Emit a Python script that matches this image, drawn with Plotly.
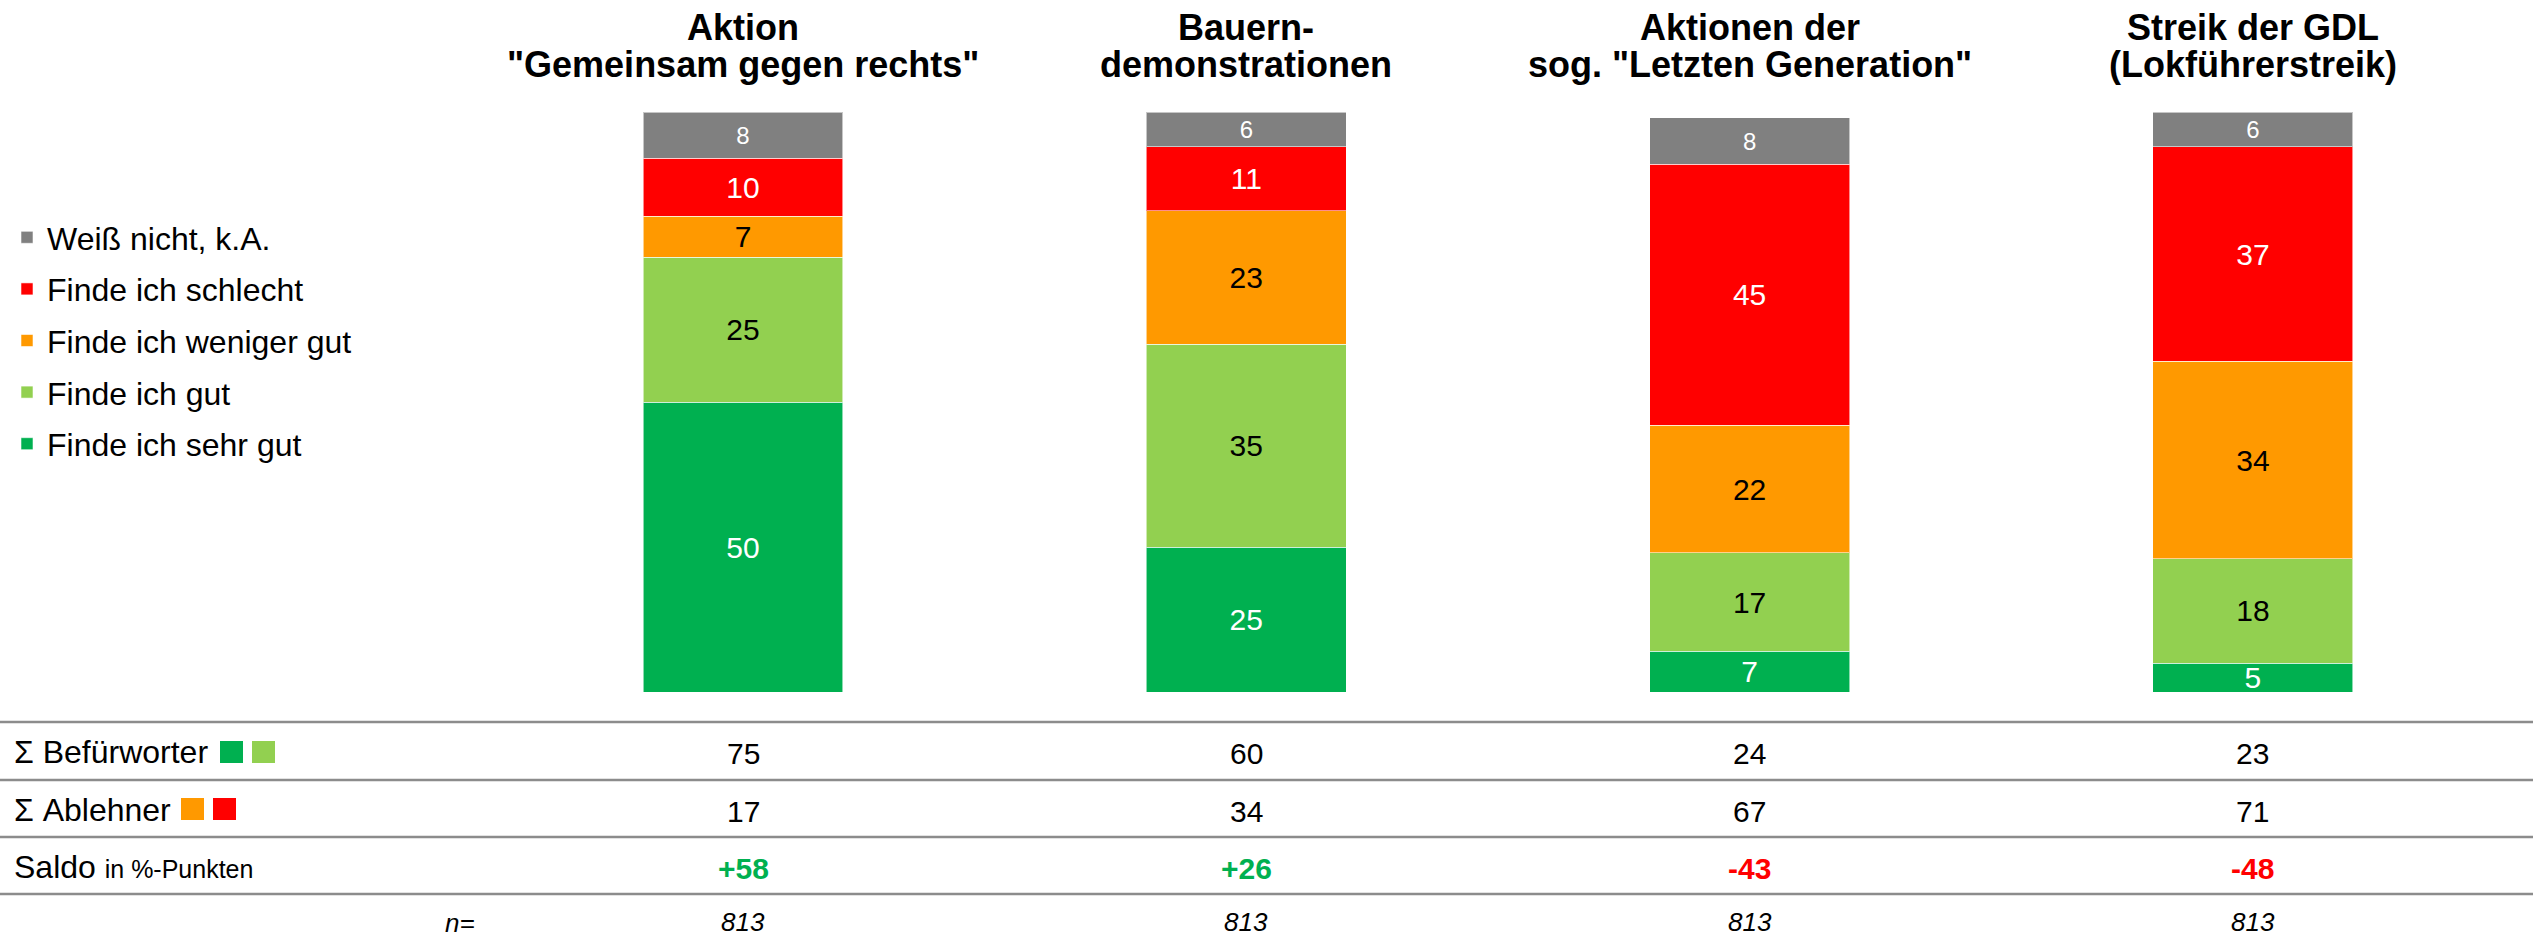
import plotly.graph_objects as go

# ---------------- data ----------------
categories = ['Aktion "Gemeinsam gegen rechts"', "Bauerndemonstrationen",
              'Aktionen der sog. "Letzten Generation"', "Streik der GDL (Lokführerstreik)"]
title_line1 = ["Aktion", "Bauern-", "Aktionen der", "Streik der GDL"]
title_line2 = ['"Gemeinsam gegen rechts"', "demonstrationen", 'sog. "Letzten Generation"', "(Lokführerstreik)"]

series_names = ["Finde ich sehr gut", "Finde ich gut", "Finde ich weniger gut",
                "Finde ich schlecht", "Weiß nicht, k.A."]
sehr_gut = [50, 25, 7, 5]
gut = [25, 35, 17, 18]
weniger_gut = [7, 23, 22, 34]
schlecht = [10, 11, 45, 37]
weiss_nicht = [8, 6, 8, 6]
n_values = [813, 813, 813, 813]

colors = ["#00B050", "#92D050", "#FF9900", "#FF0000", "#808080"]
text_colors = ["white", "black", "black", "white", "white"]
text_sizes = [30, 30, 30, 30, 24]

befuerworter = [a + b for a, b in zip(sehr_gut, gut)]
ablehner = [a + b for a, b in zip(weniger_gut, schlecht)]
saldo = [b - a for b, a in zip(befuerworter, ablehner)]

# ---------------- figure ----------------
W, H = 2548, 939
FONT = "Liberation Sans, Arial, sans-serif"


def py(px):
    return 1 - px / H


def pxx(px):
    return px / W


fig = go.Figure()
all_series = [sehr_gut, gut, weniger_gut, schlecht, weiss_nicht]
n_series = len(series_names)
for i, (name, vals) in enumerate(zip(series_names, all_series)):
    fig.add_trace(go.Bar(
        x=categories, y=vals, name=name, legendgroup=name,
        legendrank=n_series - i,
        marker=dict(color=colors[i], line=dict(width=1, color="rgba(255,255,255,0.55)")),
        text=[str(v) for v in vals], textposition="inside", insidetextanchor="middle",
        textangle=0, constraintext="none",
        textfont=dict(color=text_colors[i], size=text_sizes[i], family=FONT),
        hoverinfo="skip",
    ))

spacing = 503.3
c0 = 743
fig.update_layout(
    width=W, height=H,
    margin=dict(l=0, r=0, t=0, b=0),
    paper_bgcolor="white", plot_bgcolor="white",
    barmode="stack", bargap=0.603,
    font=dict(family=FONT, color="black"),
    xaxis=dict(type="category", range=[-c0 / spacing, (W - c0) / spacing],
               showticklabels=False, showgrid=False, zeroline=False, showline=False,
               fixedrange=True),
    yaxis=dict(range=[0, 100], domain=[py(692), py(112)], showticklabels=False,
               showgrid=False, zeroline=False, showline=False, fixedrange=True),
    showlegend=True,
    legend=dict(x=pxx(7), xanchor="left", y=py(210), yanchor="top",
                traceorder="grouped", tracegroupgap=7,
                font=dict(size=32, family=FONT, color="black"),
                bgcolor="rgba(0,0,0,0)", itemclick=False, itemdoubleclick=False),
)

annotations = []
# titles
for cat, l1, l2 in zip(categories, title_line1, title_line2):
    annotations.append(dict(x=cat, xref="x", y=py(27), yref="paper", text=f"<b>{l1}</b>",
                            showarrow=False, xanchor="center", yanchor="middle",
                            font=dict(size=36, family=FONT, color="black")))
    annotations.append(dict(x=cat, xref="x", y=py(65), yref="paper", text=f"<b>{l2}</b>",
                            showarrow=False, xanchor="center", yanchor="middle",
                            font=dict(size=36, family=FONT, color="black")))

# table row labels
row_y = [752, 810, 867, 923]
annotations.append(dict(x=pxx(12), xref="paper", y=py(row_y[0]), yref="paper",
                        text="Σ Befürworter", showarrow=False, xanchor="left", yanchor="middle",
                        font=dict(size=32, family=FONT, color="black")))
annotations.append(dict(x=pxx(12), xref="paper", y=py(row_y[1]), yref="paper",
                        text="Σ Ablehner", showarrow=False, xanchor="left", yanchor="middle",
                        font=dict(size=32, family=FONT, color="black")))
annotations.append(dict(x=pxx(12), xref="paper", y=py(row_y[2]), yref="paper",
                        text="Saldo <span style='font-size:25px'>in %-Punkten</span>",
                        showarrow=False, xanchor="left", yanchor="middle",
                        font=dict(size=32, family=FONT, color="black")))
annotations.append(dict(x=pxx(477), xref="paper", y=py(row_y[3]), yref="paper",
                        text="<i>n=</i>", showarrow=False, xanchor="right", yanchor="middle",
                        font=dict(size=26, family=FONT, color="black")))

# table values
for cat, b, a, s, n in zip(categories, befuerworter, ablehner, saldo, n_values):
    annotations.append(dict(x=cat, xref="x", y=py(753), yref="paper", text=str(b),
                            showarrow=False, xanchor="center", yanchor="middle",
                            font=dict(size=30, family=FONT, color="black")))
    annotations.append(dict(x=cat, xref="x", y=py(811), yref="paper", text=str(a),
                            showarrow=False, xanchor="center", yanchor="middle",
                            font=dict(size=30, family=FONT, color="black")))
    annotations.append(dict(x=cat, xref="x", y=py(868), yref="paper",
                            text=f"<b>{s:+d}</b>", showarrow=False,
                            xanchor="center", yanchor="middle",
                            font=dict(size=30, family=FONT,
                                      color=colors[0] if s >= 0 else colors[3])))
    annotations.append(dict(x=cat, xref="x", y=py(922), yref="paper", text=f"<i>{n}</i>",
                            showarrow=False, xanchor="center", yanchor="middle",
                            font=dict(size=26, family=FONT, color="black")))

shapes = []
# horizontal table rules
for ly in [722, 780, 837, 894]:
    shapes.append(dict(type="line", xref="paper", yref="paper", x0=0, x1=pxx(2533),
                       y0=py(ly), y1=py(ly), line=dict(color="#8C8C8C", width=2.5)))
# colour keys in the table
keys = [(colors[0], 220, 741), (colors[1], 252, 741), (colors[2], 181, 798), (colors[3], 213, 798)]
for col, kx, ky in keys:
    shapes.append(dict(type="rect", xref="paper", yref="paper", x0=pxx(kx), x1=pxx(kx + 23),
                       y0=py(ky + 22), y1=py(ky), fillcolor=col, line=dict(width=0)))

fig.update_layout(annotations=annotations, shapes=shapes)
fig.write_html("out.html", config={"displayModeBar": False, "staticPlot": True},
               post_script="document.body.style.margin='0';document.body.style.overflow='hidden';")
